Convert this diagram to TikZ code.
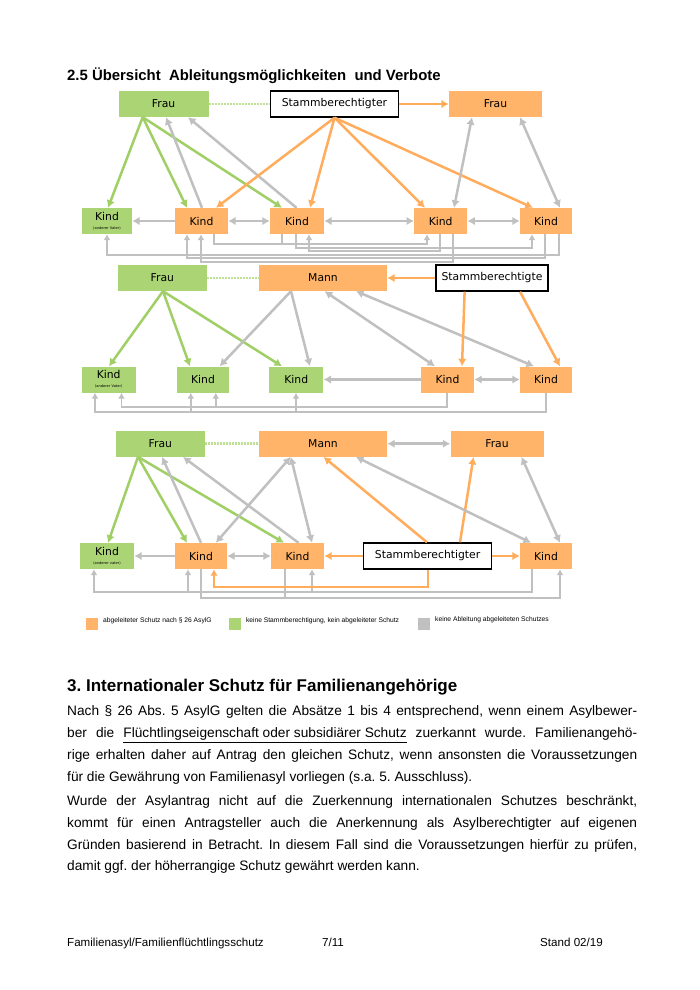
\documentclass[tikz,border=0pt]{standalone}
\usepackage{fontspec}
\setmainfont{Liberation Sans}
\newfontfamily\dvfont{DejaVu Sans}
\usetikzlibrary{arrows.meta}
\definecolor{ora}{RGB}{255,180,105}
\definecolor{oraln}{RGB}{255,172,92}
\definecolor{grn}{RGB}{171,213,116}
\definecolor{grnln}{RGB}{160,207,102}
\definecolor{gry}{RGB}{192,192,192}
\definecolor{dotg}{RGB}{190,225,150}
\frenchspacing
\begin{document}
\begin{tikzpicture}[x=1pt,y=-1pt,
  box/.style={inner sep=0pt, minimum height=26pt, font=\dvfont\fontsize{10.8}{12}\selectfont},
  ob/.style={box, fill=ora},
  gb/.style={box, fill=grn},
  wb/.style={box, fill=white, draw=black, line width=1.4pt},
  tp/.style={-{Latex[length=7.5pt,width=8.5pt]}},
  dtp/.style={{Latex[length=7.5pt,width=8.5pt]}-{Latex[length=7.5pt,width=8.5pt]}},
  gl/.style={draw=gry, line width=2.5pt, tp},
  gd/.style={draw=gry, line width=2.5pt, dtp},
  gn/.style={draw=gry, line width=2.5pt},
  bl/.style={draw=gry, line width=1.9pt, -{Latex[length=6pt,width=7pt]}},
  bn/.style={draw=gry, line width=1.9pt},
  ol/.style={draw=oraln, line width=2.5pt, tp},
  obl/.style={draw=oraln, line width=2.2pt, -{Latex[length=6.5pt,width=7.5pt]}},
  grl/.style={draw=grnln, line width=2.5pt, tp},
  dl/.style={draw=dotg, line width=2.5pt, dash pattern=on 2pt off 1pt},
  leg/.style={anchor=west, inner sep=0pt, font=\fontsize{6.7}{8}\selectfont},
  body/.style={anchor=base west, inner sep=0pt, font=\fontsize{13.7}{15}\selectfont},
  foot/.style={inner sep=0pt, font=\fontsize{11.6}{13}\selectfont},
]
\useasboundingbox[fill=white] (0,0) rectangle (700,990);

% ---------- title ----------
\node[anchor=base west, inner sep=0pt, font=\bfseries\fontsize{14.9}{17}\selectfont] (t25) at (67,81)
  {2.5 Übersicht\ \ Ableitungsmöglichkeiten\ \ und Verbote};

% ================= Diagram 1 =================
\node[gb, minimum width=90pt] (f1) at (163.6,104) {Frau};
\node[wb, minimum width=128pt] (s1) at (334.5,104) {Stammberechtigter};
\node[ob, minimum width=93pt] (g1) at (495.5,104) {Frau};
\node[gb, minimum width=50pt, align=center] (a1) at (107,221) {Kind\\[-3pt]{\fontsize{3.6}{4}\selectfont (anderer Vater)}};
\node[ob, minimum width=53pt] (b1) at (201.5,221) {Kind};
\node[ob, minimum width=54pt] (c1) at (297,221) {Kind};
\node[ob, minimum width=53pt] (d1) at (440.7,221) {Kind};
\node[ob, minimum width=52pt] (e1) at (546,221) {Kind};

\draw[dl] (f1.east) -- (s1.west);
\draw[ol] (s1.east) -- (g1.west);
\draw[grl] ([xshift=-20.9pt]f1.south) -- ([xshift=1pt]a1.north);
\draw[grl] ([xshift=-20.9pt]f1.south) -- ([xshift=-14.5pt]b1.north);
\draw[grl] ([xshift=-20.9pt]f1.south) -- ([xshift=-15pt]c1.north);
\draw[gl] ([xshift=0.5pt]b1.north) -- ([xshift=2.4pt]f1.south);
\draw[gl] ([xshift=-0.5pt]c1.north) -- ([xshift=24.4pt]f1.south);
\draw[ol] (s1.south) -- ([xshift=14.5pt]b1.north);
\draw[ol] (s1.south) -- ([xshift=13pt]c1.north);
\draw[ol] (s1.south) -- ([xshift=-15.7pt]d1.north);
\draw[ol] (s1.south) -- ([xshift=-13pt]e1.north);
\draw[gd] ([xshift=-23.5pt]g1.south) -- ([xshift=13.3pt]d1.north);
\draw[gd] ([xshift=24.5pt]g1.south) -- ([xshift=14pt]e1.north);
\draw[gl] (b1.west) -- (a1.east);
\draw[gd] (b1.east) -- (c1.west);
\draw[gd] (c1.east) -- (d1.west);
\draw[gd] (d1.east) -- (e1.west);
% bottom connectors
\draw[bl] ([xshift=12.5pt]b1.south) -- ++(0,10) -| ([xshift=-13.7pt]d1.south);
\draw[bn] ([xshift=-15pt]c1.south) -- ++(0,10);
\draw[bl] ([xshift=-1pt]c1.south) -- ++(0,13.5) -| ([xshift=-14pt]e1.south);
\draw[bl] ([xshift=-0.7pt]d1.south) -- ++(0,17) -| ([xshift=12pt]c1.south);
\draw[bl] ([xshift=13pt]e1.south) -- ++(0,20.5) -| (a1.south);
\draw[bl] ([xshift=-1pt]e1.south) -- ++(0,24) -| ([xshift=-14.5pt]b1.south);
\draw[bl] ([xshift=12.3pt]d1.south) -- ++(0,27.5) -| ([xshift=-0.5pt]b1.south);

% ================= Diagram 2 =================
\node[gb, minimum width=89pt] (f2) at (162.4,278) {Frau};
\node[ob, minimum width=128pt] (m2) at (323,278) {Mann};
\node[wb, minimum width=112pt] (s2) at (492,278) {Stammberechtigte};
\node[gb, minimum width=54pt, align=center] (a2) at (108.7,379.5) {Kind\\[-3pt]{\fontsize{3.6}{4}\selectfont (anderer Vater)}};
\node[gb, minimum width=52.5pt] (b2) at (203,379.5) {Kind};
\node[gb, minimum width=54pt] (c2) at (296.3,379.5) {Kind};
\node[ob, minimum width=53pt] (d2) at (447.5,379.5) {Kind};
\node[ob, minimum width=52pt] (e2) at (546,379.5) {Kind};

\draw[dl] (f2.east) -- (m2.west);
\draw[ol] (s2.west) -- (m2.east);
\draw[grl] ([xshift=0.6pt]f2.south) -- ([xshift=0.3pt]a2.north);
\draw[grl] ([xshift=0.6pt]f2.south) -- ([xshift=-13pt]b2.north);
\draw[grl] ([xshift=0.6pt]f2.south) -- ([xshift=-14.3pt]c2.north);
\draw[gl] ([xshift=-32pt]m2.south) -- ([xshift=16.6pt]b2.north);
\draw[gl] ([xshift=-32pt]m2.south) -- ([xshift=13.7pt]c2.north);
\draw[gd] ([xshift=1.6pt]m2.south) -- ([xshift=-12.5pt]d2.north);
\draw[gd] ([xshift=33pt]m2.south) -- ([xshift=-12pt]e2.north);
\draw[ol] ([xshift=-27.4pt]s2.south) -- ([xshift=14.5pt]d2.north);
\draw[ol] ([xshift=28pt]s2.south) -- ([xshift=14pt]e2.north);
\draw[gl] (d2.west) -- (c2.east);
\draw[gd] (d2.east) -- (e2.west);
% bottom connectors
\draw[bl] ([xshift=-0.5pt]d2.south) -- ++(0,14.5) -| ([xshift=12.8pt]a2.south);
\draw[bl] ([xshift=12.8pt]b2.south) ++(0,14.5) -- ([xshift=12.8pt]b2.south);
\draw[bl] (e2.south) -- ++(0,19.5) -| ([xshift=-13.7pt]a2.south);
\draw[bl] ([xshift=-12.2pt]b2.south) ++(0,19.5) -- ([xshift=-12.2pt]b2.south);
\draw[bl] ([xshift=-0.3pt]c2.south) ++(0,19.5) -- ([xshift=-0.3pt]c2.south);

% ================= Diagram 3 =================
\node[gb, minimum width=89pt] (f3) at (160.4,443.7) {Frau};
\node[ob, minimum width=128pt] (m3) at (323,443.7) {Mann};
\node[ob, minimum width=93pt] (g3) at (497,443.7) {Frau};
\node[gb, minimum width=54pt, align=center] (a3) at (107,556) {Kind\\[-3pt]{\fontsize{3.6}{4}\selectfont (anderer vater)}};
\node[ob, minimum width=52pt] (b3) at (201,556) {Kind};
\node[ob, minimum width=53pt] (c3) at (297.5,556) {Kind};
\node[wb, minimum width=128pt] (s3) at (427.6,556) {Stammberechtigter};
\node[ob, minimum width=52pt] (e3) at (546,556) {Kind};

\draw[dl] (f3.east) -- (m3.west);
\draw[gd] (m3.east) -- (g3.west);
\draw[grl] ([xshift=-22.4pt]f3.south) -- ([xshift=1pt]a3.north);
\draw[grl] ([xshift=-22.4pt]f3.south) -- ([xshift=-14pt]b3.north);
\draw[grl] ([xshift=-22.4pt]f3.south) -- ([xshift=-13.5pt]c3.north);
\draw[gl] (b3.north) -- ([xshift=1.6pt]f3.south);
\draw[gl] ([xshift=1pt]c3.north) -- ([xshift=22.6pt]f3.south);
\draw[gd] ([xshift=14.8pt]b3.north) -- ([xshift=-32.2pt]m3.south);
\draw[gd] ([xshift=-32.2pt]m3.south) -- ([xshift=14.5pt]c3.north);
\draw[ol] ([xshift=-0.6pt]s3.north) -- ([xshift=0.5pt]m3.south);
\draw[ol] ([xshift=32.4pt]s3.north) -- ([xshift=-23.5pt]g3.south);
\draw[gd] ([xshift=33pt]m3.south) -- ([xshift=-15pt]e3.north);
\draw[gd] ([xshift=24.5pt]g3.south) -- ([xshift=14pt]e3.north);
\draw[gl] (b3.west) -- (a3.east);
\draw[gd] (b3.east) -- (c3.west);
\draw[ol] (s3.west) -- (c3.east);
\draw[ol] (s3.east) -- (e3.west);
% bottom connectors
\draw[bl] ([xshift=-14pt]e3.south) -- ++(0,22.7) -| ([xshift=-13pt]a3.south);
\draw[bl] ([xshift=-13pt]b3.south) ++(0,22.7) -- ([xshift=-13pt]b3.south);
\draw[bl] ([xshift=14.5pt]c3.south) ++(0,22.7) -- ([xshift=14.5pt]c3.south);
\draw[bl] (b3.south) -- ++(0,29) -| ([xshift=14pt]e3.south);
\draw[bn] ([xshift=-12.5pt]c3.south) -- ++(0,29);
\draw[obl] ([xshift=0.4pt]s3.south) -- ++(0,17) -| ([xshift=13pt]b3.south);

% ================= Legend =================
\node[fill=ora, minimum width=12.5pt, minimum height=12pt, inner sep=0pt] (lo) at (92.2,624) {};
\node[leg] (lot) at (103,620.7) {abgeleiteter Schutz nach § 26 AsylG};
\node[fill=grn, minimum width=12.5pt, minimum height=12pt, inner sep=0pt] (lg) at (235.2,624) {};
\node[leg] (lgt) at (245.8,620.7) {keine Stammberechtigung, kein abgeleiteter Schutz};
\node[fill=gry, minimum width=12.5pt, minimum height=12pt, inner sep=0pt] (lr) at (424,624) {};
\node[leg] (lrt) at (435,619.3) {keine Ableitung abgeleiteten Schutzes};

% ================= Text =================
\node[anchor=base west, inner sep=0pt, font=\bfseries\fontsize{17}{20}\selectfont] (h3) at (67,691)
  {3. Internationaler Schutz für Familienangehörige};
\node[body] (l1) at (67,715.5) {\makebox[570pt][s]{Nach § 26 Abs. 5 AsylG gelten die Absätze 1 bis 4 entsprechend, wenn einem Asylbewer-}};
\node[body] (l2) at (67,737.5) {\makebox[570pt][s]{ber die \underline{Flüchtlingseigenschaft oder subsidiärer Schutz} zuerkannt wurde. Familienangehö-}};
\node[body] (l3) at (67,759) {\makebox[570pt][s]{rige erhalten daher auf Antrag den gleichen Schutz, wenn ansonsten die Voraussetzungen}};
\node[body] (l4) at (67,781) {für die Gewährung von Familienasyl vorliegen (s.a. 5. Ausschluss).};
\node[body] (l5) at (67,805) {\makebox[570pt][s]{Wurde der Asylantrag nicht auf die Zuerkennung internationalen Schutzes beschränkt,}};
\node[body] (l6) at (67,827) {\makebox[570pt][s]{kommt für einen Antragsteller auch die Anerkennung als Asylberechtigter auf eigenen}};
\node[body] (l7) at (67,849) {\makebox[570pt][s]{Gründen basierend in Betracht. In diesem Fall sind die Voraussetzungen hierfür zu prüfen,}};
\node[body] (l8) at (67,870.5) {damit ggf. der höherrangige Schutz gewährt werden kann.};

% ================= Footer =================
\node[foot, anchor=base west] (ft1) at (67,946) {Familienasyl/Familienflüchtlingsschutz};
\node[foot, anchor=base west] (ft2) at (322,946) {7/11};
\node[foot, anchor=base east] (ft3) at (603,946) {Stand 02/19};
\end{tikzpicture}
\end{document}
